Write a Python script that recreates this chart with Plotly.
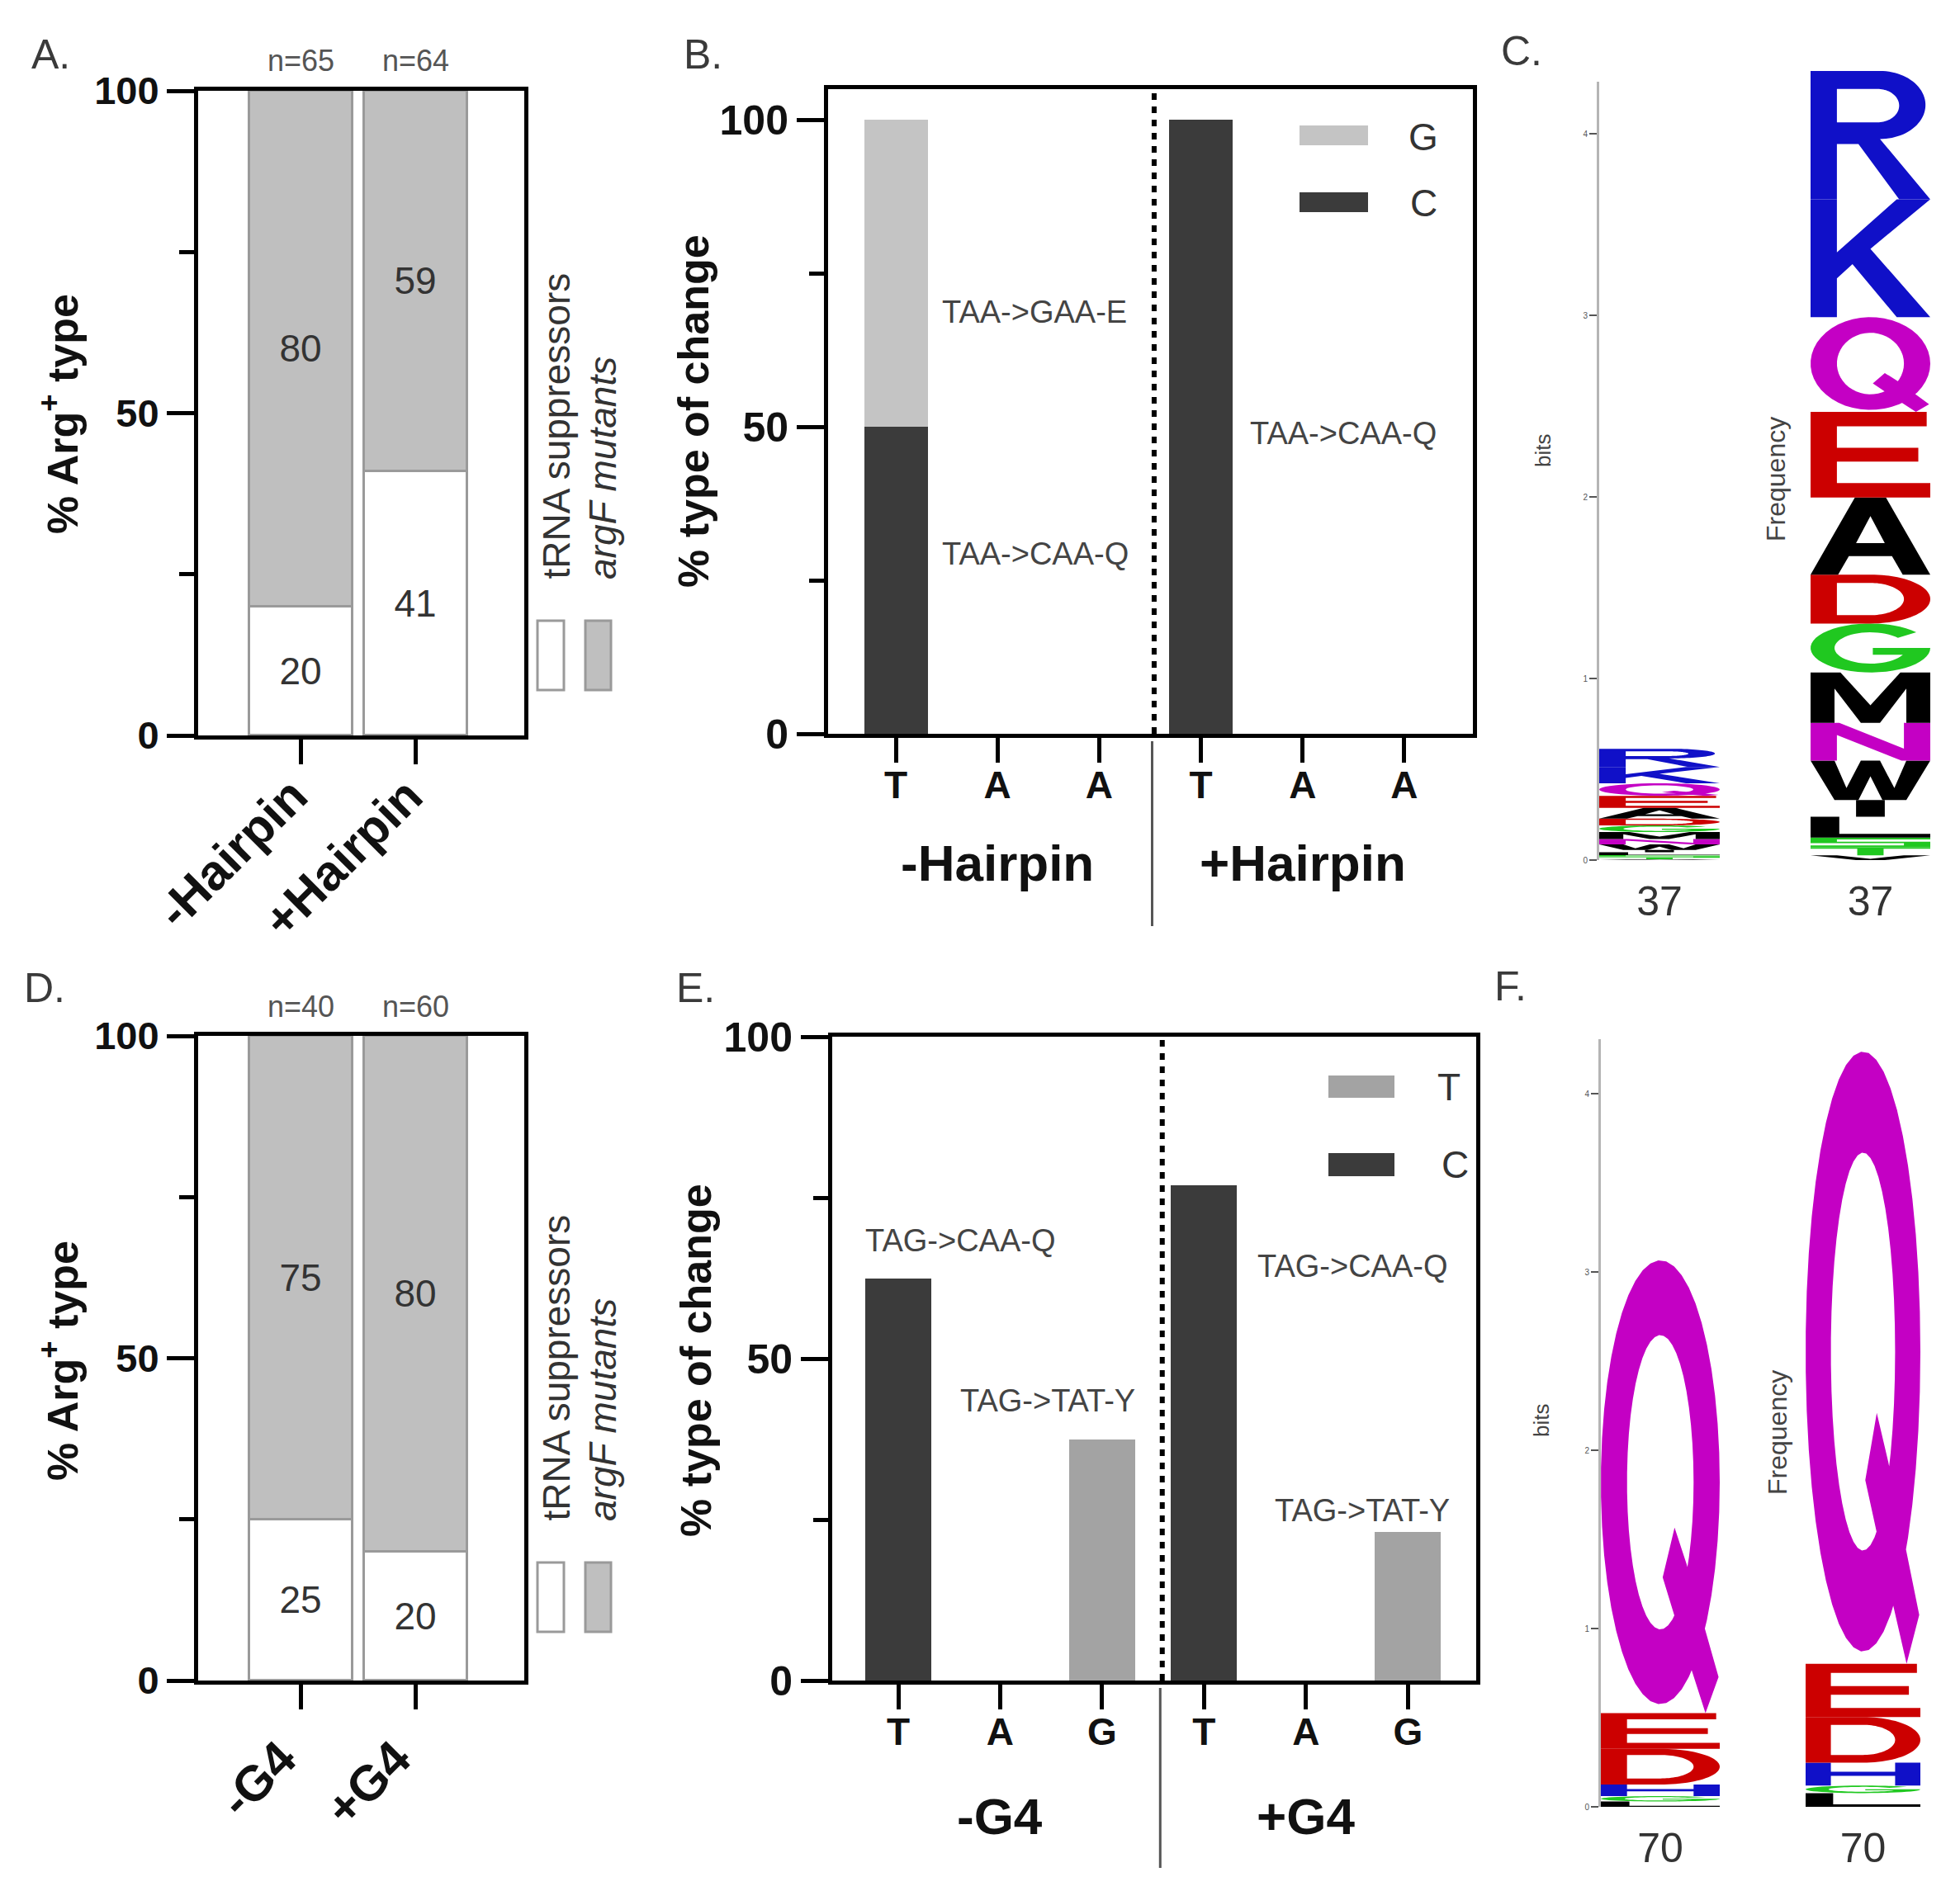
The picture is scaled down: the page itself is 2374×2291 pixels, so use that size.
import numpy as np
import plotly.graph_objects as go

W, H = 2374, 2291
OFF = 8  # page body margin compensation
FONT = "Liberation Sans, Arial, Helvetica, sans-serif"

# ---------------- data ----------------
a_groups = ["-Hairpin", "+Hairpin"]
a_n = ["n=65", "n=64"]
a_trna = [20, 41]
a_argf = [80, 59]

d_groups = ["-G4", "+G4"]
d_n = ["n=40", "n=60"]
d_trna = [25, 20]
d_argf = [75, 80]

b_bases = ["T", "A", "A", "T", "A", "A"]
b_C = [50, 0, 0, 100, 0, 0]
b_G = [50, 0, 0, 0, 0, 0]
b_group_labels = ["-Hairpin", "+Hairpin"]
b_notes = ["TAA->GAA-E", "TAA->CAA-Q", "TAA->CAA-Q"]

e_bases = ["T", "A", "G", "T", "A", "G"]
e_C = [62.5, 0, 0, 76.9, 0, 0]
e_T = [0, 0, 37.5, 0, 0, 23.1]
e_group_labels = ["-G4", "+G4"]
e_notes = ["TAG->CAA-Q", "TAG->TAT-Y", "TAG->CAA-Q", "TAG->TAT-Y"]

c_position = "37"
c_letters = ["V", "T", "S", "L", "I", "W", "N", "M", "G", "D", "A", "E", "Q", "K", "R"]  # bottom -> top
c_bits = [0.004, 0.010, 0.013, 0.016, 0.013, 0.030, 0.030, 0.038, 0.037, 0.037, 0.060, 0.065, 0.070, 0.090, 0.100]
c_freq = [0.006, 0.010, 0.012, 0.026, 0.021, 0.049, 0.047, 0.063, 0.061, 0.061, 0.096, 0.107, 0.118, 0.147, 0.160]

f_position = "70"
f_letters = ["L", "G", "H", "D", "E", "Q"]  # bottom -> top
f_bits = [0.03, 0.03, 0.065, 0.20, 0.20, 2.54]
f_freq = [0.018, 0.010, 0.030, 0.060, 0.070, 0.805]

# ---------------- helpers ----------------
def pxx(p):
    return (p - OFF) / W

def py(p):
    return 1 - (p - OFF) / H

def xdom(a, b):
    return [pxx(a), pxx(b)]

def ydom(top, bottom):
    return [py(bottom), py(top)]

def ell(cx, cy, rx, ry, a0, a1, n=48):
    t = np.radians(np.linspace(a0, a1, n))
    return [(cx + rx * np.cos(v), cy + ry * np.sin(v)) for v in t]

def area(poly):
    s = 0.0
    for (x1, y1), (x2, y2) in zip(poly, poly[1:] + poly[:1]):
        s += x1 * y2 - x2 * y1
    return s / 2

def glyph(L):
    S, Hh = [], []
    if L == "Q":
        S.append(ell(0.5, 0.51, 0.5, 0.49, 0, 360))
        Hh.append(ell(0.5, 0.51, 0.28, 0.325, 0, 360))
        S.append([(0.52, 0.30), (0.62, 0.41), (0.72, 0.33), (0.99, 0.08), (0.88, 0.0), (0.66, 0.18)])
    elif L == "R":
        S.append([(0, 0), (0, 1), (0.58, 1)] + ell(0.58, 0.735, 0.38, 0.265, 90, -90)
                 + [(1.0, 0.0), (0.74, 0.0), (0.40, 0.43), (0.22, 0.43), (0.22, 0.0)])
        Hh.append([(0.22, 0.60), (0.56, 0.60)] + ell(0.56, 0.73, 0.18, 0.13, -90, 90) + [(0.22, 0.86)])
    elif L == "K":
        S.append([(0, 0), (0, 1), (0.22, 1), (0.22, 0.55), (0.72, 1), (1, 1), (0.5, 0.58),
                  (1, 0), (0.72, 0), (0.35, 0.45), (0.22, 0.33), (0.22, 0)])
    elif L == "E":
        S.append([(0, 0), (1, 0), (1, 0.17), (0.22, 0.17), (0.22, 0.42), (0.9, 0.42), (0.9, 0.58),
                  (0.22, 0.58), (0.22, 0.83), (0.97, 0.83), (0.97, 1), (0, 1)])
    elif L == "D":
        S.append([(0, 0), (0, 1), (0.5, 1)] + ell(0.5, 0.5, 0.5, 0.5, 90, -90))
        Hh.append([(0.22, 0.17), (0.5, 0.17)] + ell(0.5, 0.5, 0.28, 0.33, -90, 90) + [(0.22, 0.83)])
    elif L == "A":
        S.append([(0, 0), (0.37, 1), (0.63, 1), (1, 0), (0.77, 0), (0.68, 0.24), (0.32, 0.24), (0.23, 0)])
        Hh.append([(0.38, 0.41), (0.62, 0.41), (0.5, 0.76)])
    elif L == "G":
        S.append(ell(0.5, 0.5, 0.5, 0.5, 40, 360) + [(0.52, 0.5), (0.52, 0.36), (0.78, 0.36)]
                 + ell(0.5, 0.5, 0.30, 0.32, 340, 40))
    elif L == "M":
        S.append([(0, 0), (0, 1), (0.25, 1), (0.5, 0.35), (0.75, 1), (1, 1), (1, 0), (0.8, 0),
                  (0.8, 0.68), (0.58, 0), (0.42, 0), (0.2, 0.68), (0.2, 0)])
    elif L == "N":
        S.append([(0, 0), (0, 1), (0.24, 1), (0.78, 0.32), (0.78, 1), (1, 1), (1, 0), (0.76, 0),
                  (0.22, 0.68), (0.22, 0)])
    elif L == "W":
        S.append([(0, 1), (0.2, 1), (0.3, 0.3), (0.42, 1), (0.58, 1), (0.7, 0.3), (0.8, 1), (1, 1),
                  (0.8, 0), (0.6, 0), (0.5, 0.6), (0.4, 0), (0.2, 0)])
    elif L == "I":
        S.append([(0.38, 0), (0.62, 0), (0.62, 1), (0.38, 1)])
    elif L == "L":
        S.append([(0, 0), (0, 1), (0.24, 1), (0.24, 0.18), (1, 0.18), (1, 0)])
    elif L == "S":
        S.append([(1, 1), (0, 1), (0, 0.42), (0.78, 0.42), (0.78, 0.18), (0, 0.18), (0, 0), (1, 0),
                  (1, 0.58), (0.22, 0.58), (0.22, 0.82), (1, 0.82)])
    elif L == "T":
        S.append([(0, 1), (1, 1), (1, 0.82), (0.61, 0.82), (0.61, 0), (0.39, 0), (0.39, 0.82), (0, 0.82)])
    elif L == "V":
        S.append([(0, 1), (0.22, 1), (0.5, 0.25), (0.78, 1), (1, 1), (0.62, 0), (0.38, 0)])
    elif L == "H":
        S.append([(0, 0), (0, 1), (0.22, 1), (0.22, 0.6), (0.78, 0.6), (0.78, 1), (1, 1), (1, 0),
                  (0.78, 0), (0.78, 0.42), (0.22, 0.42), (0.22, 0)])
    polys = []
    for p in S:
        polys.append(p if area(p) > 0 else p[::-1])
    for p in Hh:
        polys.append(p if area(p) < 0 else p[::-1])
    return polys

COLORS = {"R": "#1010c8", "K": "#1010c8", "H": "#1010c8",
          "Q": "#c400c4", "N": "#c400c4",
          "E": "#cc0000", "D": "#cc0000",
          "A": "#000000", "M": "#000000", "W": "#000000", "I": "#000000", "L": "#000000",
          "V": "#000000",
          "G": "#20c820", "S": "#20c820", "T": "#20c820"}

def glyph_path(L, y0, h):
    out = []
    for poly in glyph(L):
        pts = ["%.5f,%.6f" % (u, y0 + v * h) for u, v in poly]
        out.append("M" + " L".join(pts) + " Z")
    return " ".join(out)

shapes = []
annotations = []

def draw_logo(letters, heights, xref, yref):
    base = 0.0
    for L, h in zip(letters, heights):
        shapes.append(dict(type="path", path=glyph_path(L, base, h), xref=xref, yref=yref,
                           fillcolor=COLORS[L], line=dict(width=0), fillrule="nonzero",
                           layer="above"))
        base += h

def ann(text, x, y, size, xref="paper", yref="paper", color="#333333", bold=False,
        italic=False, angle=0, xanchor="center", yanchor="middle"):
    f = dict(family=FONT, size=size, color=color)
    if bold:
        f["weight"] = "bold"
    if italic:
        f["style"] = "italic"
    annotations.append(dict(text=text, x=x, y=y, xref=xref, yref=yref, showarrow=False,
                            font=f, textangle=angle, xanchor=xanchor, yanchor=yanchor))

fig = go.Figure()

# ---------------- panels A and D (stacked %) ----------------
def stacked_pct(lower, upper, xa, ya):
    pos = list(range(len(lower)))
    for vals, col in ((lower, "white"), (upper, "#bfbfbf")):
        fig.add_trace(go.Bar(x=pos, y=vals, xaxis=xa, yaxis=ya, width=0.906,
                             marker=dict(color=col, line=dict(color="#9a9a9a", width=3)),
                             text=[str(v) for v in vals], textposition="inside",
                             insidetextanchor="middle", textangle=0, constraintext="none",
                             textfont=dict(family=FONT, size=46, color="#333333"),
                             hoverinfo="skip"))

stacked_pct(a_trna, a_argf, "x", "y")
stacked_pct(d_trna, d_argf, "x5", "y5")

# rotated category labels under A / D
for i, t in enumerate(a_groups):
    ann(t, i + 0.17, py(927), 60, xref="x", bold=True, angle=-45, color="#111111",
        xanchor="right", yanchor="top")
for i, t in enumerate(d_groups):
    ann(t, i + 0.07, py(2093), 60, xref="x5", bold=True, angle=-45, color="#111111",
        xanchor="right", yanchor="top")

# ---------------- panels B and E (type of change) ----------------
pos6 = list(range(6))
fig.add_trace(go.Bar(x=pos6, y=b_C, xaxis="x2", yaxis="y2", width=0.625,
                     marker=dict(color="#3b3b3b", line=dict(width=0)), hoverinfo="skip"))
fig.add_trace(go.Bar(x=pos6, y=b_G, xaxis="x2", yaxis="y2", width=0.625,
                     marker=dict(color="#c4c4c4", line=dict(width=0)), hoverinfo="skip"))
fig.add_trace(go.Bar(x=pos6, y=e_C, xaxis="x6", yaxis="y6", width=0.65,
                     marker=dict(color="#3b3b3b", line=dict(width=0)), hoverinfo="skip"))
fig.add_trace(go.Bar(x=pos6, y=e_T, xaxis="x6", yaxis="y6", width=0.65,
                     marker=dict(color="#a3a3a3", line=dict(width=0)), hoverinfo="skip"))

# ---------------- logos ----------------
draw_logo(c_letters, c_bits, "x3", "y3")
draw_logo(c_letters, c_freq, "x4", "y4")
draw_logo(f_letters, f_bits, "x7", "y7")
draw_logo(f_letters, f_freq, "x8", "y8")

# ---------------- axes ----------------
tick_bold = lambda s: dict(family=FONT, size=s, color="#111111", weight="bold")

def frame_y(dom, rng, xa, size):
    return dict(domain=dom, range=rng, tickvals=[0, 50, 100], ticks="outside", ticklen=33,
                tickwidth=5, tickcolor="black", showline=True, linewidth=5, linecolor="black",
                mirror=True, showgrid=False, zeroline=False, tickfont=tick_bold(size),
                automargin=False, anchor=xa,
                minor=dict(tickvals=[25, 75], ticks="outside", ticklen=18, tickwidth=5,
                           tickcolor="black"))

def frame_x(dom, rng, vals, text, size, ya):
    d = dict(domain=dom, range=rng, tickvals=vals, ticks="outside", ticklen=30, tickwidth=5,
             tickcolor="black", showline=True, linewidth=5, linecolor="black", mirror=True,
             showgrid=False, zeroline=False, anchor=ya, automargin=False)
    if text is None:
        d["showticklabels"] = False
    else:
        d.update(ticktext=text, tickfont=tick_bold(size), ticklabelstandoff=-12)
    return d

layout_axes = {}
layout_axes["xaxis"] = frame_x(xdom(240, 635), [-0.896, 1.946], [0, 1], None, 57, "y")
layout_axes["yaxis"] = frame_y(ydom(110, 891), [0, 100], "x", 47)
layout_axes["xaxis5"] = frame_x(xdom(240, 635), [-0.896, 1.946], [0, 1], None, 57, "y5")
layout_axes["yaxis5"] = frame_y(ydom(1255, 2036), [0, 100], "x5", 47)

layout_axes["xaxis2"] = frame_x(xdom(1003, 1784), [-0.666, 5.674], pos6, b_bases, 46, "y2")
layout_axes["yaxis2"] = frame_y(ydom(108, 889), [0, 105], "x2", 50)
layout_axes["xaxis6"] = frame_x(xdom(1008, 1788), [-0.648, 5.67], pos6, e_bases, 46, "y6")
layout_axes["yaxis6"] = frame_y(ydom(1256, 2036), [0, 100], "x6", 50)

def logo_x(dom, label, ya):
    return dict(domain=dom, range=[0, 1], tickvals=[0.5], ticktext=[label], ticks="outside",
                ticklen=6, tickcolor="rgba(0,0,0,0)", showline=False, showgrid=False,
                zeroline=False, tickfont=dict(family=FONT, size=50, color="#333333"), anchor=ya,
                automargin=False)

def logo_y_axis(dom, rng, xa):
    return dict(domain=dom, range=rng, tickvals=[0, 1, 2, 3, 4], ticks="outside", ticklen=9,
                tickwidth=2, tickcolor="#555555", showline=True, linewidth=3,
                linecolor="#b5b5b5", showgrid=False, zeroline=False,
                tickfont=dict(family=FONT, size=10, color="#555555"), anchor=xa,
                automargin=False)

def logo_y_hidden(dom, rng, xa):
    return dict(domain=dom, range=rng, visible=False, showgrid=False, zeroline=False, anchor=xa,
                automargin=False)

layout_axes["xaxis3"] = logo_x(xdom(1937, 2083), c_position, "y3")
layout_axes["yaxis3"] = logo_y_axis(ydom(99, 1042), [0, (1042 - 99) / 220], "x3")
layout_axes["xaxis4"] = logo_x(xdom(2193, 2338), c_position, "y4")
layout_axes["yaxis4"] = logo_y_hidden(ydom(86, 1042), [0, sum(c_freq)], "x4")
layout_axes["xaxis7"] = logo_x(xdom(1939, 2083), f_position, "y7")
layout_axes["yaxis7"] = logo_y_axis(ydom(1259, 2189), [0, (2189 - 1259) / 216], "x7")
layout_axes["xaxis8"] = logo_x(xdom(2187, 2326), f_position, "y8")
layout_axes["yaxis8"] = logo_y_hidden(ydom(1274, 2189), [0, sum(f_freq)], "x8")

# ---------------- annotations ----------------
for t, x, y in [("A.", 61, 66), ("B.", 851, 66), ("C.", 1843, 62),
                ("D.", 54, 1197), ("E.", 842, 1197), ("F.", 1829, 1195)]:
    ann(t, pxx(x), py(y), 50, color="#3a3a3a")

for i, t in enumerate(a_n):
    ann(t, i, py(73), 36, xref="x", color="#555555")
for i, t in enumerate(d_n):
    ann(t, i, py(1219), 36, xref="x5", color="#555555")

ann("% Arg<sup>+</sup> type", pxx(72), py(502), 52, bold=True, angle=-90, color="#111111")
ann("% Arg<sup>+</sup> type", pxx(72), py(1649), 52, bold=True, angle=-90, color="#111111")
ann("% type of change", pxx(840), py(498), 52, bold=True, angle=-90, color="#111111")
ann("% type of change", pxx(843), py(1648), 52, bold=True, angle=-90, color="#111111")

for off in (0, 1141):
    ann("tRNA suppressors", pxx(673), py(704 + off), 46, angle=-90, yanchor="bottom")
    ann("argF mutants", pxx(730), py(704 + off), 46, angle=-90, italic=True, yanchor="bottom")
    shapes.append(dict(type="rect", xref="paper", yref="paper", x0=pxx(651), x1=pxx(683),
                       y0=py(836 + off), y1=py(752 + off), fillcolor="white",
                       line=dict(color="#9a9a9a", width=3)))
    shapes.append(dict(type="rect", xref="paper", yref="paper", x0=pxx(709), x1=pxx(740),
                       y0=py(836 + off), y1=py(752 + off), fillcolor="#bfbfbf",
                       line=dict(color="#9a9a9a", width=3)))

ann(b_group_labels[0], 1, py(1046), 62, xref="x2", bold=True, color="#111111")
ann(b_group_labels[1], 4, py(1046), 62, xref="x2", bold=True, color="#111111")
ann(e_group_labels[0], 1, py(2200), 62, xref="x6", bold=True, color="#111111")
ann(e_group_labels[1], 4, py(2200), 62, xref="x6", bold=True, color="#111111")

shapes.append(dict(type="line", xref="x2", yref="paper", x0=2.52, x1=2.52, y0=py(898), y1=py(1122),
                   line=dict(color="#555555", width=3)))
shapes.append(dict(type="line", xref="x6", yref="paper", x0=2.57, x1=2.57, y0=py(2045), y1=py(2263),
                   line=dict(color="#555555", width=3)))
shapes.append(dict(type="line", xref="x2", yref="y2", x0=2.54, x1=2.54, y0=0, y1=105,
                   line=dict(color="black", width=6, dash="8px,8px"), layer="above"))
shapes.append(dict(type="line", xref="x6", yref="y6", x0=2.59, x1=2.59, y0=0, y1=100,
                   line=dict(color="black", width=6, dash="8px,8px"), layer="above"))

def swatch(x0, x1, y0, y1, col):
    shapes.append(dict(type="rect", xref="paper", yref="paper", x0=pxx(x0), x1=pxx(x1),
                       y0=py(y1), y1=py(y0), fillcolor=col, line=dict(width=0)))

swatch(1574, 1657, 152, 176, "#c4c4c4")
swatch(1574, 1657, 233, 257, "#3b3b3b")
ann("G", pxx(1724), py(166), 46)
ann("C", pxx(1724), py(246), 46)
swatch(1609, 1689, 1303, 1330, "#a3a3a3")
swatch(1609, 1689, 1397, 1425, "#3b3b3b")
ann("T", pxx(1755), py(1317), 46)
ann("C", pxx(1762), py(1411), 46)

for t, x, y in zip(b_notes, [1.36, 1.37, 4.40], [68.7, 29.3, 49.0]):
    ann(t, x, y, 38, xref="x2", yref="y2", color="#444444")
for t, x, y in zip(e_notes, [0.61, 1.47, 4.46, 4.55], [68.3, 43.4, 64.4, 26.4]):
    ann(t, x, y, 38, xref="x6", yref="y6", color="#444444")

ann("bits", pxx(1869), py(546), 26, angle=-90, color="#444444")
ann("Frequency", pxx(2151), py(581), 32, angle=-90, color="#444444")
ann("bits", pxx(1867), py(1721), 26, angle=-90, color="#444444")
ann("Frequency", pxx(2153), py(1736), 32, angle=-90, color="#444444")

fig.update_layout(
    template="none",
    width=W, height=H, autosize=False, margin=dict(l=0, r=0, t=0, b=0, pad=0, autoexpand=False),
    paper_bgcolor="white", plot_bgcolor="white", showlegend=False, barmode="stack",
    bargap=0, font=dict(family=FONT, color="#222222"),
    shapes=shapes, annotations=annotations, **layout_axes,
)

fig.write_html("out.html")
